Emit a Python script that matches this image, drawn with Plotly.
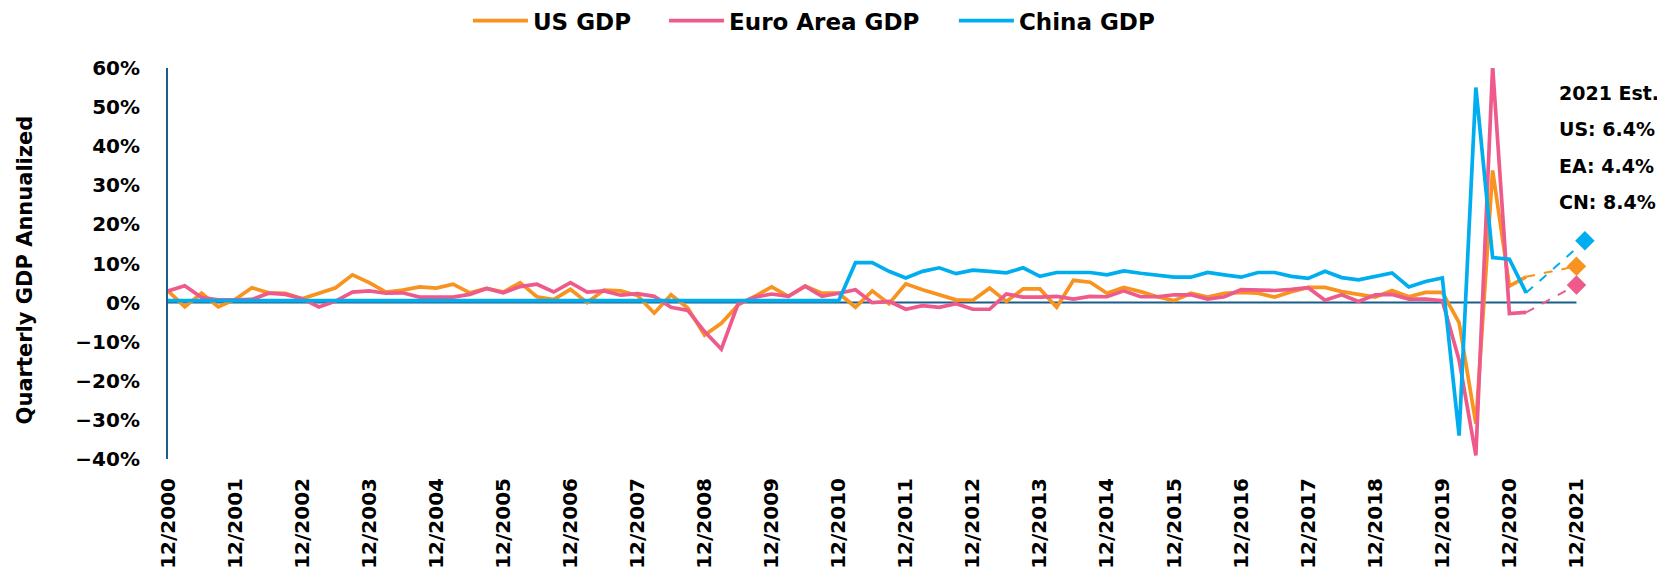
import plotly.graph_objects as go

# Quarter-end tick labels (one per year, every 4 quarters), quarterly data from 12/2000 to 3/2021
year_labels = ["12/2000", "12/2001", "12/2002", "12/2003", "12/2004", "12/2005", "12/2006",
               "12/2007", "12/2008", "12/2009", "12/2010", "12/2011", "12/2012", "12/2013",
               "12/2014", "12/2015", "12/2016", "12/2017", "12/2018", "12/2019", "12/2020",
               "12/2021"]

us_gdp = [3.0, -1.1, 2.4, -1.1, 0.8, 3.8, 2.5, 2.4, 1.0, 2.5, 3.8, 7.1, 5.1, 2.7, 3.2, 4.0,
          3.7, 4.7, 2.5, 3.6, 2.7, 5.1, 1.5, 0.8, 3.4, 0.0, 3.2, 3.0, 1.8,
          -2.7, 2.0, -1.4, -8.3, -5.3, -0.6, 1.6, 4.0, 1.6, 4.2, 2.4, 2.4, -1.2, 3.0, -0.3,
          4.8, 3.3, 2.0, 0.7, 0.6, 3.7, 0.3, 3.5, 3.5, -1.2, 5.7, 5.2,
          2.4, 3.9, 2.8, 1.5, 0.5, 2.4, 1.4, 2.4, 2.6, 2.4, 1.4, 2.8, 3.9, 3.9, 2.8, 2.2,
          1.4, 3.1, 1.5, 2.6, 2.6, -5.1, -31.0, 33.8, 4.2, 6.6]

ea_gdp = [3.0, 4.3, 1.3, 0.7, 0.7, 0.8, 2.4, 2.1, 1.0, -1.1, 0.4, 2.7, 3.0, 2.4, 2.5, 1.4,
          1.4, 1.4, 2.1, 3.6, 2.5, 4.1, 4.7, 2.7, 5.1, 2.7, 3.0, 1.9, 2.3,
          1.6, -1.2, -2.0, -7.4, -11.9, -0.3, 1.4, 2.2, 1.6, 4.2, 1.6, 2.4, 3.3, 0.0, 0.3,
          -1.7, -0.8, -1.2, -0.3, -1.7, -1.7, 2.2, 1.4, 1.4, 1.6, 0.9, 1.6,
          1.5, 3.0, 1.5, 1.5, 2.0, 2.0, 0.9, 1.5, 3.3, 3.1, 3.1, 3.4, 3.8, 0.6, 2.0, 0.3,
          2.0, 2.1, 0.9, 0.9, 0.5, -14.7, -39.1, 60.4, -2.8, -2.5]

cn_gdp = [0.5] * 41 + [10.2, 10.2, 8.0, 6.3, 8.0, 8.9, 7.4, 8.3, 8.0, 7.6, 8.9, 6.7, 7.7, 7.7,
                      7.7, 7.1, 8.1, 7.5, 7.1, 6.5, 6.5, 7.7, 7.1, 6.5, 7.7, 7.7, 6.7, 6.2,
                      8.0, 6.4, 5.8, 6.6, 7.6, 4.0, 5.4, 6.3, -34.0, 55.0, 11.5, 11.1, 2.5]

# 2021 estimate points (quarter index position, value)
us_est = (84, 9.3)
ea_est = (84, 4.5)
cn_est = (84.5, 15.8)

ORANGE = "#F7931E"
PINK = "#EE5A8A"
BLUE = "#00AEEF"
NAVY = "#1B5E8C"
FONT = "DejaVu Sans"
W = "bold"

quarter_x = list(range(len(us_gdp)))
tick_x = [4 * k for k in range(len(year_labels))]

fig = go.Figure()

series = [("US GDP", us_gdp, us_est, ORANGE, "legend"),
          ("Euro Area GDP", ea_gdp, ea_est, PINK, "legend2"),
          ("China GDP", cn_gdp, cn_est, BLUE, "legend3")]

for name, vals, est, col, lg in series:
    fig.add_trace(go.Scatter(x=quarter_x, y=vals, mode="lines", name=name, legend=lg,
                             line=dict(color=col, width=3.7)))

for name, vals, est, col, lg in series:
    fig.add_trace(go.Scatter(x=[quarter_x[-1], est[0]], y=[vals[-1], est[1]], mode="lines",
                             line=dict(color=col, width=2, dash="dash"), showlegend=False,
                             hoverinfo="skip"))
    fig.add_trace(go.Scatter(x=[est[0]], y=[est[1]], mode="markers",
                             marker=dict(symbol="diamond", size=15, color=col),
                             showlegend=False, name=name + " 2021 Est."))

# zero line across the data span
fig.add_shape(type="line", xref="x", yref="y", x0=0, x1=tick_x[-1], y0=0, y1=0,
              line=dict(color=NAVY, width=2), layer="below")

legend_style = dict(orientation="h", xanchor="left", y=1.121, yanchor="middle",
                    font=dict(size=23, family=FONT, weight=W, color="black"),
                    bgcolor="rgba(0,0,0,0)", borderwidth=0, itemwidth=55)

fig.update_layout(
    width=1657, height=564,
    margin=dict(l=160, r=55, t=60, b=113, autoexpand=False),
    paper_bgcolor="white", plot_bgcolor="white",
    font=dict(family=FONT, color="black", size=20, weight=W),
    legend=dict(x=0.208, **legend_style),
    legend2=dict(x=0.344, **legend_style),
    legend3=dict(x=0.545, **legend_style),
    showlegend=True,
)

fig.update_xaxes(range=[0, 86], tickvals=tick_x, ticktext=year_labels, tickangle=-90,
                 showgrid=False, zeroline=False, showline=False, ticks="",
                 ticklabelstandoff=14,
                 tickfont=dict(size=20, family=FONT, weight=W, color="black"))

fig.update_yaxes(range=[-40, 60], dtick=10, ticksuffix="%", showgrid=False, zeroline=False,
                 showline=True, linecolor=NAVY, linewidth=2, ticks="",
                 ticklabelstandoff=22,
                 tickfont=dict(size=20, family=FONT, weight=W, color="black"))

fig.add_annotation(text="Quarterly GDP Annualized", textangle=-90, xref="paper", yref="paper",
                   x=-0.099, y=0.483, xanchor="center", yanchor="middle", showarrow=False,
                   font=dict(size=21, family=FONT, weight=W, color="black"))

est_lines = ["2021 Est.", "US: 6.4%", "EA: 4.4%", "CN: 8.4%"]
est_y = [0.936, 0.844, 0.749, 0.657]
for txt, yy in zip(est_lines, est_y):
    fig.add_annotation(text=txt, xref="paper", yref="paper", x=0.963, y=yy,
                       xanchor="left", yanchor="middle", showarrow=False,
                       font=dict(size=19, family=FONT, weight=W, color="black"))

fig.write_html("out.html")
